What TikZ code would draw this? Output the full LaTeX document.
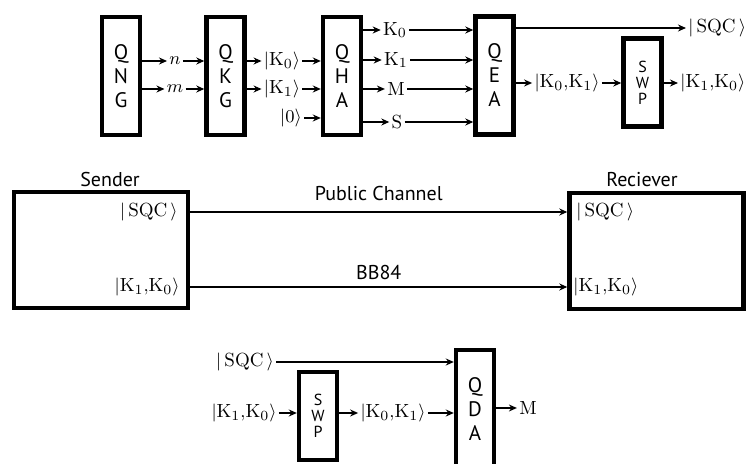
\documentclass[tikz,border=0pt]{standalone}
\usepackage{amsmath}
\usepackage{fontspec}
\setsansfont{PT Sans}
\usepackage{tikz}
\usetikzlibrary{positioning,arrows.meta}

\begin{document}
\begin{tikzpicture}[
  x=0.5pt, y=-0.5pt,
  box/.style={draw, line width=2.2pt, inner sep=0pt, align=center, font=\sffamily\fontsize{10.5}{12}\selectfont},
  big/.style={box, minimum width=19pt, minimum height=59pt},
  swp/.style={box, minimum width=19pt, minimum height=44pt, font=\sffamily\fontsize{8}{8}\selectfont},
  party/.style={draw, line width=2.2pt, minimum width=87pt, minimum height=58pt},
  title/.style={font=\sffamily\fontsize{10}{11}\selectfont},
  lbl/.style={inner sep=1pt, font=\fontsize{9.5}{10}\selectfont},
  arrow/.style={-{Stealth[length=4pt, width=3.5pt]}, line width=0.9pt}
]
\clip (0,0) rectangle (746,464);

% sender side
\node[big] (qng) at (121,76) {Q\\N\\G};
\node[big] (qkg) at (225.5,76) {Q\\K\\G};
\node[big] (qha) at (342,76) {Q\\H\\A};
\node[big] (qea) at (494.5,75.5) {Q\\E\\A};
\node[swp] (swpA) at (642.5,82.5) {S\\W\\P};

\node[lbl] (n) at (175,61) {$n$};
\node[lbl] (m) at (175,89) {$m$};
\node[lbl] (k0in) at (282,61) {$|\mathrm{K}_0\rangle$};
\node[lbl] (k1in) at (282,89) {$|\mathrm{K}_1\rangle$};
\node[lbl] (zero) at (291,118) {$|0\rangle$};
\node[lbl] (k0) at (395,30) {$\mathrm{K}_0$};
\node[lbl] (k1) at (396,60) {$\mathrm{K}_1$};
\node[lbl] (msg) at (396,89) {$\mathrm{M}$};
\node[lbl] (s) at (397,122) {$\mathrm{S}$};
\node[lbl] (k0k1) at (567,83) {$|\mathrm{K}_0{,}\mathrm{K}_1\rangle$};
\node[lbl, anchor=west] (sqcOut) at (686,28) {$|\,\mathrm{SQC}\,\rangle$};
\node[lbl, anchor=west] (k1k0Out) at (678,83) {$|\mathrm{K}_1{,}\mathrm{K}_0\rangle$};

\draw[arrow] (qng.east |- n) -- (n);
\draw[arrow] (n) -- (qkg.west |- n);
\draw[arrow] (qng.east |- m) -- (m);
\draw[arrow] (m) -- (qkg.west |- m);
\draw[arrow] (qkg.east |- k0in) -- (k0in);
\draw[arrow] (k0in) -- (qha.west |- k0in);
\draw[arrow] (qkg.east |- k1in) -- (k1in);
\draw[arrow] (k1in) -- (qha.west |- k1in);
\draw[arrow] (zero) -- (qha.west |- zero);
\foreach \o in {k0,k1,msg,s}{
  \draw[arrow] (qha.east |- \o) -- (\o);
  \draw[arrow] (\o) -- (qea.west |- \o);
}
\draw[arrow] (qea.east |- sqcOut) -- (sqcOut);
\draw[arrow] (qea.east |- k0k1) -- (k0k1);
\draw[arrow] (k0k1) -- (swpA.west |- k0k1);
\draw[arrow] (swpA.east |- k1k0Out) -- (k1k0Out);

% channels
\node[party] (sender) at (101,250) {};
\node[party] (recv) at (656.5,251) {};
\node[title] (senderLbl) at (110,180) {Sender};
\node[title] (recvLbl) at (642,180) {Reciever};
\node[lbl, anchor=east] (sqcS) at (180,212) {$|\,\mathrm{SQC}\,\rangle$};
\node[lbl, anchor=east] (k1k0S) at (182,287) {$|\mathrm{K}_1{,}\mathrm{K}_0\rangle$};
\node[lbl, anchor=west] (sqcR) at (574,212) {$|\,\mathrm{SQC}\,\rangle$};
\node[lbl, anchor=west] (k1k0R) at (571,287) {$|\mathrm{K}_1{,}\mathrm{K}_0\rangle$};

\draw[arrow] (sender.east |- sqcS) -- node[midway, above=2pt, title] (pub) {Public Channel} (recv.west |- sqcS);
\draw[arrow] (sender.east |- k1k0S) -- node[midway, above=0pt, title] (bb) {BB84} (recv.west |- k1k0S);

% receiver side
\node[swp] (swpB) at (318,416) {S\\W\\P};
\node[big] (qda) at (475,409) {Q\\D\\A};
\node[lbl] (sqcB) at (245,362) {$|\,\mathrm{SQC}\,\rangle$};
\node[lbl] (k1k0B) at (244,413) {$|\mathrm{K}_1{,}\mathrm{K}_0\rangle$};
\node[lbl] (k0k1B) at (393,413) {$|\mathrm{K}_0{,}\mathrm{K}_1\rangle$};
\node[lbl] (mOut) at (528,408) {$\mathrm{M}$};

\draw[arrow] (sqcB) -- (qda.west |- sqcB);
\draw[arrow] (k1k0B) -- (swpB.west |- k1k0B);
\draw[arrow] (swpB.east |- k0k1B) -- (k0k1B);
\draw[arrow] (k0k1B) -- (qda.west |- k0k1B);
\draw[arrow] (qda.east |- mOut) -- (mOut);
\end{tikzpicture}
\end{document}
